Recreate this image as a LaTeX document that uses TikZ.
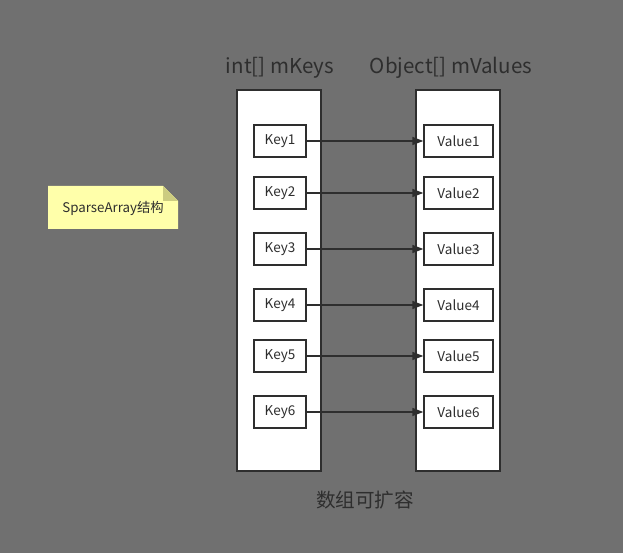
\documentclass[tikz,border=0pt]{standalone}
\usepackage{fontspec}
\setmainfont{Noto Sans CJK SC}
\usetikzlibrary{arrows.meta}
\definecolor{bg}{HTML}{707070}
\definecolor{ink}{HTML}{2E2E2E}
\definecolor{notefill}{HTML}{FFFFAA}
\definecolor{notefold}{HTML}{CCCC80}
\begin{document}
\begin{tikzpicture}[x=1pt,y=1pt,
  bigbox/.style={draw=ink,line width=1.5pt,fill=white,minimum width=84pt,minimum height=381pt,inner sep=0pt},
  keybox/.style={draw=ink,line width=1.3pt,fill=white,minimum width=52pt,minimum height=32pt,inner sep=0pt,font=\fontsize{13.5}{15}\selectfont,text=ink},
  valbox/.style={draw=ink,line width=1.3pt,fill=white,minimum width=69pt,minimum height=32pt,inner sep=0pt,font=\fontsize{13.5}{15}\selectfont,text=ink},
  title/.style={text=ink,font=\fontsize{20.5}{24}\selectfont,inner sep=0pt},
  link/.style={draw=ink,line width=1.3pt,-{Triangle[length=11pt,width=8pt]}}]
\fill[bg] (0,0) rectangle (623,553);
\useasboundingbox (0,0) rectangle (623,553);
% note
\fill[notefill] (48,367) -- (163,367) -- (178,352) -- (178,324) -- (48,324) -- cycle;
\fill[notefold] (163,367) -- (163,352) -- (178,352) -- cycle;
\node[text=ink,font=\fontsize{13.3}{15}\selectfont,inner sep=0pt] (note) at (113,345) {SparseArray结构};
% big boxes
\node[bigbox] (keys) at (279,272.5) {};
\node[bigbox] (vals) at (458,272.5) {};
\node[title] (tk) at (280,485) {int[] mKeys};
\node[title] (tv) at (451,485) {Object[] mValues};
\node[title,font=\fontsize{19.6}{22}\selectfont] (cap) at (365,53) {数组可扩容};
% keys and values
\foreach \i/\y in {1/141,2/193,3/249,4/305,5/356,6/412}{
  \node[keybox] (k\i) at (280,553-\y) {Key\i};
  \node[valbox] (v\i) at (458.5,553-\y) {Value\i};
  \draw[link] (k\i.east) -- (v\i.west);
}
\end{tikzpicture}
\end{document}
